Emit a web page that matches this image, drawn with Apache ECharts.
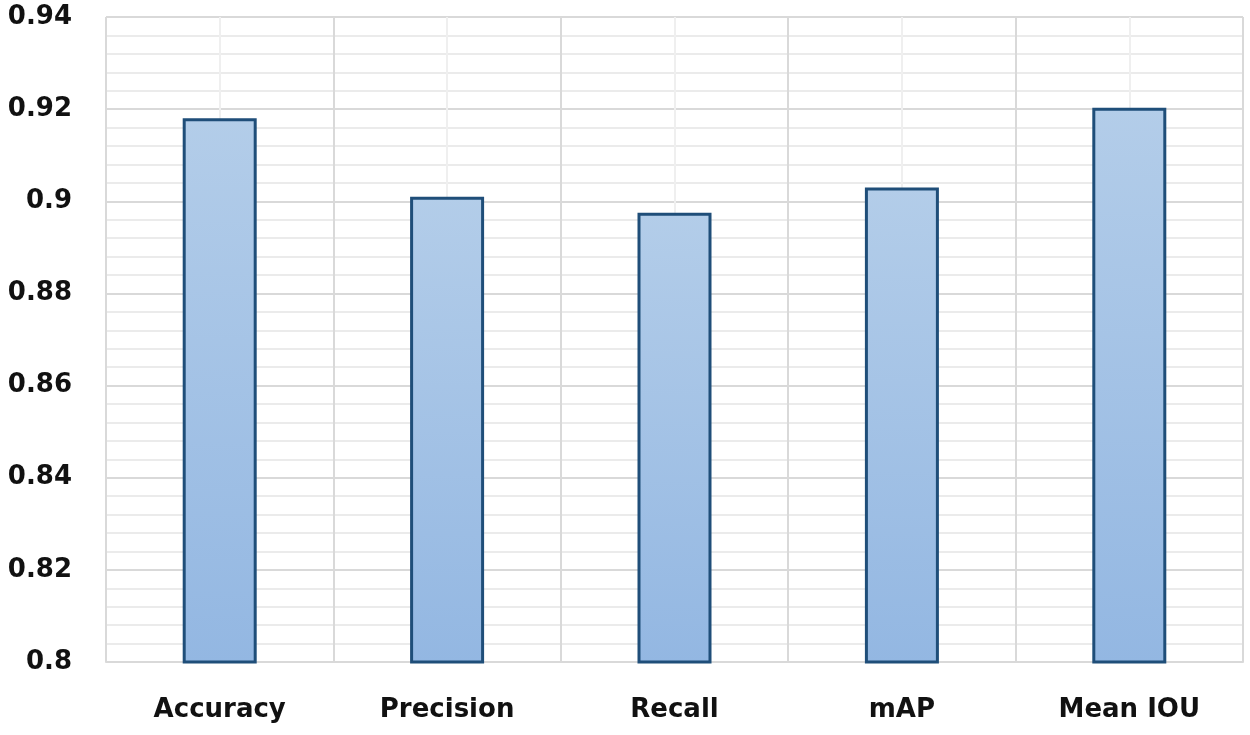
<!DOCTYPE html>
<html>
<head>
<meta charset="utf-8">
<script src="https://cdn.jsdelivr.net/npm/echarts@6/dist/echarts.min.js"></script>
<style>html,body{margin:0;padding:0;background:#fff;}#c{width:1250px;height:735px;}</style>
</head>
<body>
<div id="c"></div>
<script>
const categories = ['Accuracy', 'Precision', 'Recall', 'mAP', 'Mean IOU'];
const values = [0.918, 0.901, 0.8975, 0.903, 0.9203];
const yMin = 0.8, yMax = 0.94, yInterval = 0.02;

const chart = echarts.init(document.getElementById('c'));
const fontFamily = '"DejaVu Sans", sans-serif';
chart.setOption({
  animation: false,
  backgroundColor: '#ffffff',
  grid: { left: 106, right: 7, top: 17, bottom: 73, containLabel: false },
  xAxis: [
    {
      type: 'category',
      data: categories,
      axisLine: { show: true, lineStyle: { color: '#d9d9d9', width: 2 } },
      axisTick: { show: false },
      splitLine: { show: false },
      axisLabel: { fontFamily, fontWeight: 'bold', fontSize: 26, color: '#111', margin: 35 }
    },
    {
      type: 'value',
      min: 0, max: 5, interval: 1,
      position: 'bottom',
      axisLine: { show: false }, axisTick: { show: false }, axisLabel: { show: false },
      splitLine: { show: true, lineStyle: { color: '#d9d9d9', width: 2 } },
      minorTick: { show: false, splitNumber: 2 },
      minorSplitLine: { show: true, lineStyle: { color: '#efefef', width: 2 } }
    }
  ],
  yAxis: {
    type: 'value',
    min: yMin, max: yMax, interval: yInterval,
    axisLine: { show: false },
    axisTick: { show: false },
    axisLabel: { fontFamily, fontWeight: 'bold', fontSize: 26, color: '#111', margin: 34 },
    splitLine: { show: true, lineStyle: { color: '#d9d9d9', width: 2 } },
    minorTick: { show: false, splitNumber: 5 },
    minorSplitLine: { show: true, lineStyle: { color: '#ebebeb', width: 2 } }
  },
  series: [{
    type: 'bar',
    xAxisIndex: 0,
    data: values,
    barWidth: 74,
    itemStyle: {
      color: new echarts.graphic.LinearGradient(0, 0, 0, 1, [
        { offset: 0, color: '#b3cde9' },
        { offset: 1, color: '#93b7e2' }
      ]),
      borderColor: '#1f4e79',
      borderWidth: 3
    }
  }]
});
</script>
</body>
</html>
